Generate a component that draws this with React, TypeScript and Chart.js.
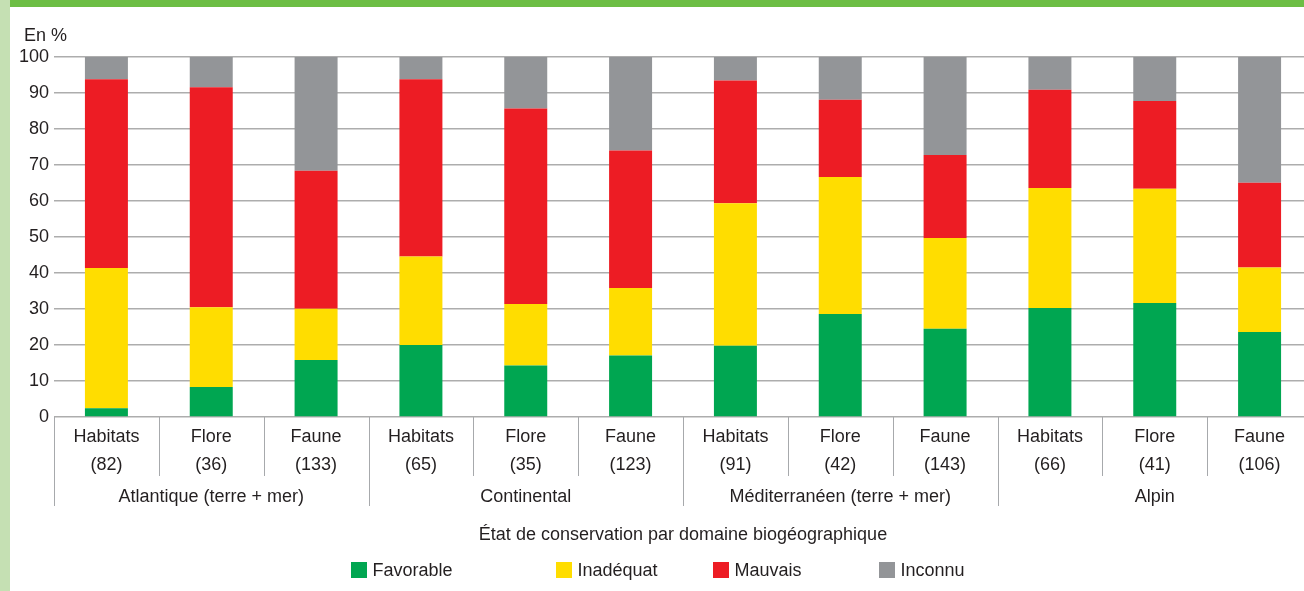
import React, { useEffect, useRef } from 'react';
import { Chart, registerables } from 'chart.js';

Chart.register(...registerables);

const categories = ['Habitats', 'Flore', 'Faune', 'Habitats', 'Flore', 'Faune', 'Habitats', 'Flore', 'Faune', 'Habitats', 'Flore', 'Faune'];
const counts = [82, 36, 133, 65, 35, 123, 91, 42, 143, 66, 41, 106];
const domains = ['Atlantique (terre + mer)', 'Continental', 'Méditerranéen (terre + mer)', 'Alpin'];
const yTicks = [0, 10, 20, 30, 40, 50, 60, 70, 80, 90, 100];

const favorable = [2.4, 8.3, 15.8, 20.0, 14.3, 17.1, 19.8, 28.6, 24.5, 30.3, 31.7, 23.6];
const inadequat = [39.0, 22.2, 14.3, 24.6, 17.1, 18.7, 39.6, 38.1, 25.2, 33.3, 31.7, 17.9];
const mauvais = [52.4, 61.1, 38.3, 49.2, 54.3, 38.2, 34.1, 21.4, 23.1, 27.3, 24.4, 23.6];
const inconnu = [6.2, 8.4, 31.6, 6.2, 14.3, 26.0, 6.5, 11.9, 27.2, 9.1, 12.2, 34.9];

const seriesNames = ['Favorable', 'Inadéquat', 'Mauvais', 'Inconnu'];
const seriesColors = ['#00a651', '#ffdd00', '#ed1c24', '#939598'];

const FONT = "'Liberation Sans', Arial, sans-serif";
const TEXT = '#231f20';

const decorPlugin = {
  id: 'decor',
  afterDraw(chart: any) {
    const ctx = chart.ctx;
    const area = chart.chartArea;
    const xs = chart.scales.x;
    const n = categories.length;
    const step = (xs.right - xs.left) / n;
    ctx.save();
    // separators under the axis
    ctx.strokeStyle = '#a7a9ac';
    ctx.lineWidth = 1;
    for (let i = 0; i <= n; i++) {
      const bx = Math.round(xs.left + i * step) + 0.5;
      const len = i % 3 === 0 ? 89 : 59;
      ctx.beginPath();
      ctx.moveTo(bx, area.bottom);
      ctx.lineTo(bx, area.bottom + len);
      ctx.stroke();
    }
    // group labels
    ctx.fillStyle = TEXT;
    ctx.font = `18px ${FONT}`;
    ctx.textAlign = 'center';
    ctx.textBaseline = 'middle';
    domains.forEach((d, g) => {
      const cx = xs.left + (g * 3 + 1.5) * step;
      ctx.fillText(d, cx, area.bottom + 80);
    });
    // unit label
    ctx.textAlign = 'left';
    ctx.fillText('En %', area.left - 30, area.top - 21);
    // legend (item pitch, box to box)
    const box = 16;
    const gapText = 5;
    const pitch = [205, 157, 166];
    const lastW = box + gapText + ctx.measureText(seriesNames[seriesNames.length - 1]).width;
    const total = pitch.reduce((a, b) => a + b, 0) + lastW;
    let lx = chart.width / 2 - 3 - total / 2;
    const ly = chart.height - 21;
    seriesNames.forEach((s, i) => {
      ctx.fillStyle = seriesColors[i];
      ctx.fillRect(Math.round(lx), Math.round(ly - box / 2), box, box);
      ctx.fillStyle = TEXT;
      ctx.fillText(s, lx + box + gapText, ly + 1);
      lx += pitch[i] || 0;
    });
    ctx.restore();
  },
};

export default function App() {
  const ref = useRef<HTMLCanvasElement | null>(null);
  useEffect(() => {
    if (!ref.current) return;
    const chart = new Chart(ref.current, {
      type: 'bar',
      data: {
        labels: categories.map((c, i) => [c, `(${counts[i]})`]),
        datasets: [favorable, inadequat, mauvais, inconnu].map((d, i) => ({
          label: seriesNames[i],
          data: d,
          backgroundColor: seriesColors[i],
          borderWidth: 0,
          barPercentage: 0.41,
          categoryPercentage: 1,
        })),
      },
      options: {
        animation: false,
        responsive: false,
        maintainAspectRatio: false,
        layout: { padding: { top: 50, left: 0, right: 0, bottom: 43 } },
        plugins: {
          legend: { display: false },
          tooltip: { enabled: false },
        },
        scales: {
          x: {
            stacked: true,
            grid: { display: false, drawTicks: false },
            border: { display: false },
            ticks: {
              autoSkip: false,
              maxRotation: 0,
              padding: 6,
              color: TEXT,
              font: { family: FONT, size: 18, lineHeight: 1.55 },
            },
            title: {
              display: true,
              text: 'État de conservation par domaine biogéographique',
              color: TEXT,
              font: { family: FONT, size: 18, lineHeight: 1.2 },
              padding: { top: 0, bottom: 2 },
            },
            afterFit(scale: any) {
              scale.height = 131;
            },
          },
          y: {
            stacked: true,
            min: 0,
            max: 100,
            afterBuildTicks(scale: any) {
              scale.ticks = yTicks.map((v) => ({ value: v }));
            },
            grid: { color: '#adadad', lineWidth: 1.4, drawTicks: false },
            border: { display: false },
            ticks: {
              padding: 5,
              color: TEXT,
              font: { family: FONT, size: 18 },
            },
            afterFit(scale: any) {
              scale.width = 44;
            },
          },
        },
      },
      plugins: [decorPlugin],
    });
    return () => chart.destroy();
  }, []);

  return (
    <div style={{ position: 'fixed', left: 0, top: 0, width: 1304, height: 591, overflow: 'hidden', background: '#ffffff' }}>
      <div style={{ position: 'absolute', left: 0, top: 0, width: 10, height: 591, background: '#c5e0b3' }} />
      <div style={{ position: 'absolute', left: 10, top: 0, width: 1294, height: 7, background: '#6dbe45' }} />
      <canvas ref={ref} width={1302} height={584} style={{ position: 'absolute', left: 10, top: 7, width: 1302, height: 584 }} />
    </div>
  );
}
